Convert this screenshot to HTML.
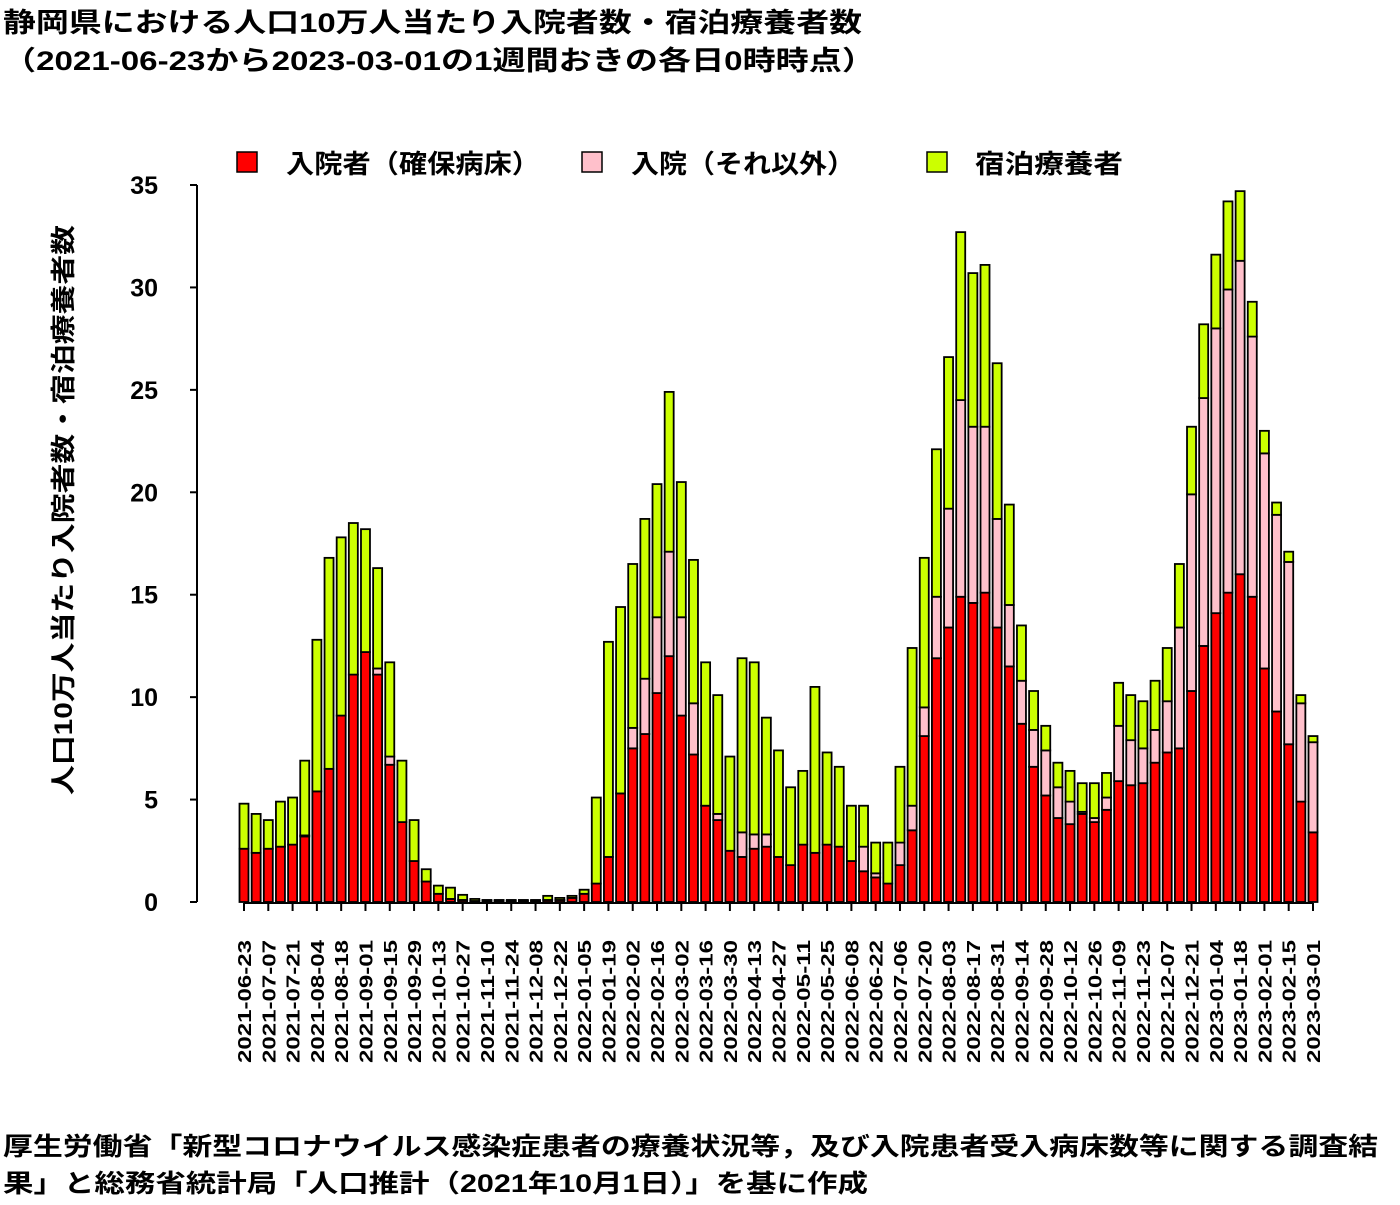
<!DOCTYPE html>
<html><head><meta charset="utf-8"><style>
body{margin:0;background:#fff;}
svg text{font-family:"Liberation Sans","Noto Sans CJK JP",sans-serif;font-weight:bold;fill:#000;}
</style></head><body>
<svg id="chart" width="1400" height="1200" xmlns="http://www.w3.org/2000/svg">
<text x="3" y="32" font-size="27" textLength="859" lengthAdjust="spacingAndGlyphs">静岡県における人口10万人当たり入院者数・宿泊療養者数</text>
<text x="3" y="70" font-size="27" textLength="872" lengthAdjust="spacingAndGlyphs">（2021-06-23から2023-03-01の1週間おきの各日0時時点）</text>
<g>
<rect x="237" y="152" width="20" height="20" fill="#ff0000" stroke="#000" stroke-width="1.5"/>
<text x="286" y="173" font-size="26" textLength="254" lengthAdjust="spacingAndGlyphs">入院者（確保病床）</text>
<rect x="582" y="152" width="20" height="20" fill="#ffc0cb" stroke="#000" stroke-width="1.5"/>
<text x="631" y="173" font-size="26" textLength="224" lengthAdjust="spacingAndGlyphs">入院（それ以外）</text>
<rect x="927" y="152" width="20" height="20" fill="#ccff00" stroke="#000" stroke-width="1.5"/>
<text x="975" y="173" font-size="26" textLength="148" lengthAdjust="spacingAndGlyphs">宿泊療養者</text>
</g>
<text transform="translate(72,510) rotate(-90)" text-anchor="middle" font-size="25" textLength="570" lengthAdjust="spacingAndGlyphs">人口10万人当たり入院者数・宿泊療養者数</text>
<g id="yaxis"></g>
<g id="bars"></g>
<g id="xaxis"></g>
<text x="3" y="1155" font-size="25" textLength="1375" lengthAdjust="spacingAndGlyphs">厚生労働省「新型コロナウイルス感染症患者の療養状況等，及び入院患者受入病床数等に関する調査結</text>
<text x="3" y="1192" font-size="25" textLength="865" lengthAdjust="spacingAndGlyphs">果」と総務省統計局「人口推計（2021年10月1日）」を基に作成</text>
</svg>
<script>
const startDate = "2021-06-23";
const nWeeks = 89;
const hospital = [2.6,2.4,2.6,2.7,2.8,3.2,5.4,6.5,9.1,11.1,12.2,11.1,6.7,3.9,2.0,1.0,0.4,0.15,0.1,0.05,0.05,0.05,0.05,0.05,0.05,0.1,0.1,0.2,0.4,0.9,2.2,5.3,7.5,8.2,10.2,12.0,9.1,7.2,4.7,4.0,2.5,2.2,2.6,2.7,2.2,1.8,2.8,2.4,2.8,2.7,2.0,1.5,1.2,0.9,1.8,3.5,8.1,11.9,13.4,14.9,14.6,15.1,13.4,11.5,8.7,6.6,5.2,4.1,3.8,4.3,3.9,4.5,5.9,5.7,5.8,6.8,7.3,7.5,10.3,12.5,14.1,15.1,16.0,14.9,11.4,9.3,7.7,4.9,3.4];
const otherHosp = [0,0,0,0,0,0.05,0,0,0,0,0,0.3,0.4,0,0,0,0,0,0,0,0,0,0,0,0,0,0,0,0,0,0,0,1.0,2.7,3.7,5.1,4.8,2.5,0,0.3,0,1.2,0.7,0.6,0,0,0,0,0,0,0,1.2,0.2,0,1.1,1.2,1.4,3.0,5.8,9.6,8.6,8.1,5.3,3.0,2.1,1.8,2.2,1.5,1.1,0.1,0.2,0.6,2.7,2.2,1.7,1.6,2.5,5.9,9.6,12.1,13.9,14.8,15.3,12.7,10.5,9.6,8.9,4.8,4.4];
const lodging = [2.2,1.9,1.4,2.2,2.3,3.65,7.4,10.3,8.7,7.4,6.0,4.9,4.6,3.0,2.0,0.6,0.4,0.55,0.25,0.1,0.05,0.05,0.05,0.05,0.05,0.2,0.1,0.1,0.2,4.2,10.5,9.1,8.0,7.8,6.5,7.8,6.6,7.0,7.0,5.8,4.6,8.5,8.4,5.7,5.2,3.8,3.6,8.1,4.5,3.9,2.7,2.0,1.5,2.0,3.7,7.7,7.3,7.2,7.4,8.2,7.5,7.9,7.6,4.9,2.7,1.9,1.2,1.2,1.5,1.4,1.7,1.2,2.1,2.2,2.3,2.4,2.6,3.1,3.3,3.6,3.6,4.3,3.4,1.7,1.1,0.6,0.5,0.4,0.3];
const yTicks = [0,5,10,15,20,25,30,35];

const NS="http://www.w3.org/2000/svg";
const x0=244, x1=1313, yBase=902, yTop=185, yMax=35;
const xPos = i => x0 + (x1-x0)*i/(nWeeks-1);
const yPos = v => yBase - (yBase-yTop)*v/yMax;
function mk(tag, attrs, parent){const e=document.createElementNS(NS,tag);for(const k in attrs)e.setAttribute(k,attrs[k]);parent.appendChild(e);return e;}
function dateLabel(i){const d=new Date(startDate+"T00:00:00Z");d.setUTCDate(d.getUTCDate()+7*i);return d.toISOString().slice(0,10);}

const ya=document.getElementById('yaxis');
const yl=mk('line',{x1:197,x2:197,y1:yPos(yMax),y2:yPos(0),stroke:'#000','stroke-width':2},ya);


yTicks.forEach(t=>{
  const tk=mk('line',{x1:190,x2:197,y1:yPos(t),y2:yPos(t),stroke:'#000','stroke-width':2},ya);
  
  
  const tx=mk('text',{x:158,y:yPos(t)+9,'text-anchor':'end','font-size':25},ya);
  
  
  tx.textContent=t;
});

const bg=document.getElementById('bars');
const bw=9;
const series=[[hospital,'#ff0000','bar-hospital'],[otherHosp,'#ffc0cb','bar-other-hospital'],[lodging,'#ccff00','bar-lodging']];
for(let i=0;i<nWeeks;i++){
  let acc=0;
  series.forEach(([arr,col,name])=>{
    const v=arr[i]; if(v<=0) return;
    const r=mk('rect',{x:xPos(i)-bw/2,y:yPos(acc+v),width:bw,height:yPos(acc)-yPos(acc+v),fill:col,stroke:'#000','stroke-width':1.8},bg);
    
    
    acc+=v;
  });
}

const xa=document.getElementById('xaxis');
const xl=mk('line',{x1:x0,x2:x1,y1:903,y2:903,stroke:'#000','stroke-width':2},xa);


for(let i=0;i<nWeeks;i+=2){
  const tk=mk('line',{x1:xPos(i),x2:xPos(i),y1:903,y2:911,stroke:'#000','stroke-width':2},xa);
  
  
  const tx=mk('text',{transform:`translate(${xPos(i)+7},940) rotate(-90)`,'text-anchor':'end','font-size':18,textLength:123,lengthAdjust:'spacingAndGlyphs'},xa);
  
  
  tx.textContent=dateLabel(i);
}
</script>
</body></html>
